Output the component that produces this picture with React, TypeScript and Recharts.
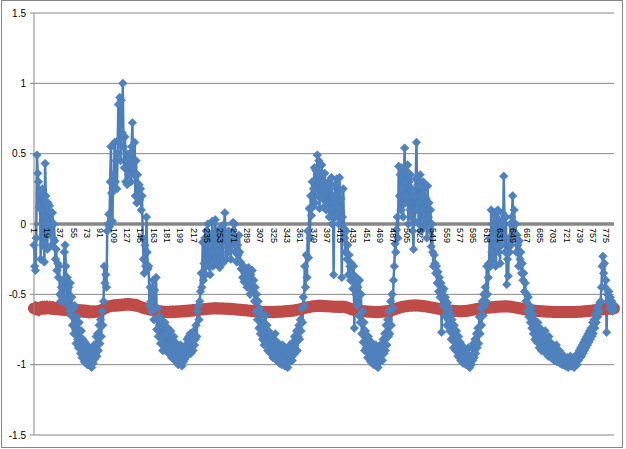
import { LineChart, Line, XAxis, YAxis, CartesianGrid, ReferenceLine } from "recharts";

// series 1: noisy seasonal signal (blue)
const signal = [
  -0.15, -0.3, -0.33, -0.1, 0.49, 0.36, 0.3, 0.12, 0.22, -0.25,
  0.1, 0.25, -0.15, 0.05, -0.27, 0.43, 0.2, 0.0, -0.18, 0.15,
  0.1, 0.13, -0.05, 0.02, -0.15, 0.08, -0.1, 0.0, -0.12, -0.25,
  -0.18, -0.33, -0.28, -0.38, -0.3, -0.5, -0.55, -0.45, -0.52, -0.4,
  -0.55, -0.2, -0.15, -0.3, -0.55, -0.38, -0.58, -0.45, -0.62, -0.42,
  -0.65, -0.52, -0.72, -0.6, -0.78, -0.58, -0.75, -0.85, -0.66, -0.82,
  -0.88, -0.7, -0.84, -0.92, -0.76, -0.95, -0.82, -0.9, -0.98, -0.84,
  -0.93, -0.86, -1.0, -0.9, -0.97, -0.88, -1.01, -0.92, -1.02, -0.9,
  -0.99, -0.86, -0.96, -0.92, -0.8, -0.94, -0.78, -0.9, -0.72, -0.85,
  -0.68, -0.8, -0.62, -0.72, -0.55, -0.3, -0.42, -0.36, -0.45, -0.05,
  0.0, 0.07, -0.02, 0.3, 0.55, 0.22, 0.02, 0.35, 0.25, 0.58,
  0.3, 0.45, 0.25, 0.5, 0.85, 0.6, 0.9, 0.45, 0.88, 0.65,
  1.0, 0.55, 0.4, 0.62, 0.3, 0.5, 0.28, 0.45, 0.35, 0.5,
  0.42, 0.3, 0.55, 0.72, 0.4, 0.35, 0.58, 0.2, 0.45, 0.15,
  0.35, 0.2, 0.28, 0.17, 0.25, 0.1, 0.2, -0.1, -0.25, -0.35,
  -0.15, -0.3, 0.05, -0.2, -0.32, -0.3, -0.58, -0.45, -0.55, -0.62,
  -0.5, -0.4, -0.68, -0.47, -0.6, -0.38, -0.75, -0.6, -0.8, -0.66,
  -0.72, -0.85, -0.68, -0.8, -0.9, -0.72, -0.86, -0.7, -0.9, -0.78,
  -0.88, -0.74, -0.92, -0.8, -0.88, -0.76, -0.95, -0.84, -0.9, -0.8,
  -0.95, -0.84, -0.98, -0.88, -0.93, -1.0, -0.9, -0.97, -0.86, -0.99,
  -1.01, -0.92, -0.98, -0.88, -0.96, -0.86, -0.94, -0.82, -0.93, -0.8,
  -0.9, -0.78, -0.92, -0.84, -0.8, -0.9, -0.76, -0.86, -0.82, -0.72,
  -0.8, -0.62, -0.58, -0.68, -0.55, -0.48, -0.35, -0.45, -0.13, -0.4,
  -0.28, -0.1, -0.36, -0.05, -0.25, 0.0, -0.3, -0.15, -0.36, -0.08,
  -0.2, 0.02, -0.3, -0.1, -0.25, 0.03, -0.15, -0.28, -0.05, -0.2,
  -0.1, -0.31, -0.03, -0.22, -0.12, -0.28, -0.05, 0.0, 0.08, -0.15,
  -0.25, -0.1, -0.2, -0.05, -0.18, -0.12, -0.25, -0.08, -0.15, 0.01,
  -0.1, 0.0, -0.2, -0.12, -0.27, -0.15, -0.22, -0.08, -0.2, -0.27,
  -0.32, -0.29, -0.38, -0.3, -0.41, -0.35, -0.4, -0.32, -0.45, -0.38,
  -0.31, -0.42, -0.5, -0.36, -0.45, -0.33, -0.48, -0.4, -0.55, -0.45,
  -0.62, -0.5, -0.68, -0.55, -0.74, -0.6, -0.78, -0.64, -0.72, -0.82,
  -0.7, -0.86, -0.75, -0.65, -0.84, -0.72, -0.9, -0.76, -0.86, -0.78,
  -0.92, -0.8, -0.88, -0.95, -0.82, -0.92, -0.78, -0.9, -0.97, -0.84,
  -0.93, -0.86, -0.99, -0.88, -0.95, -1.0, -0.86, -0.96, -0.9, -1.01,
  -0.88, -0.97, -0.92, -1.02, -0.9, -0.98, -0.86, -0.95, -0.88, -0.97,
  -0.84, -0.93, -0.8, -0.9, -0.84, -0.76, -0.9, -0.8, -0.72, -0.82,
  -0.68, -0.76, -0.6, -0.7, -0.52, -0.58, -0.3, -0.45, -0.22, -0.38,
  -0.05, -0.24, 0.11, -0.1, 0.2, 0.06, 0.3, 0.12, 0.25, 0.4,
  0.15, 0.38, 0.3, 0.49, 0.2, 0.45, 0.11, 0.35, 0.25, 0.42,
  0.18, 0.3, 0.12, 0.36, 0.22, 0.1, 0.28, 0.15, 0.3, 0.05,
  0.25, 0.1, 0.33, 0.0, 0.2, -0.36, 0.15, 0.28, 0.05, 0.32,
  0.12, 0.22, 0.0, 0.33, 0.1, 0.18, -0.38, 0.05, 0.25, -0.03,
  -0.1, -0.2, -0.05, -0.25, -0.15, -0.36, -0.22, -0.3, -0.4, -0.28,
  -0.35, -0.46, -0.3, -0.74, -0.42, -0.5, -0.38, -0.58, -0.45, -0.65,
  -0.4, -0.7, -0.5, -0.78, -0.62, -0.84, -0.7, -0.9, -0.76, -0.88,
  -0.82, -0.95, -0.8, -0.92, -0.86, -0.98, -0.84, -0.94, -0.88, -1.0,
  -0.9, -0.97, -0.86, -1.01, -0.92, -1.02, -0.9, -0.98, -0.86, -0.96,
  -0.88, -0.97, -0.82, -0.92, -0.78, -0.9, -0.72, -0.86, -0.68, -0.8,
  -0.62, -0.78, -0.55, -0.72, -0.5, -0.6, -0.4, -0.3, -0.14, -0.2,
  -0.04, 0.05, -0.1, 0.41, 0.2, 0.35, 0.1, 0.4, 0.25, 0.05,
  0.3, 0.54, 0.15, 0.38, 0.2, 0.42, 0.0, 0.3, 0.1, 0.35,
  0.05, 0.25, -0.05, -0.18, 0.2, 0.02, 0.32, 0.58, 0.1, 0.28,
  0.0, 0.15, 0.35, -0.05, 0.2, 0.1, 0.3, -0.02, 0.25, 0.05,
  0.18, -0.1, 0.27, 0.05, 0.15, -0.05, 0.1, -0.16, 0.0, -0.2,
  -0.3, -0.22, -0.28, -0.35, -0.3, -0.42, -0.34, -0.48, -0.38, -0.52,
  -0.42, -0.77, -0.48, -0.58, -0.46, -0.65, -0.52, -0.6, -0.72, -0.56,
  -0.68, -0.6, -0.76, -0.64, -0.82, -0.68, -0.78, -0.88, -0.72, -0.84,
  -0.9, -0.76, -0.86, -0.94, -0.8, -0.92, -0.84, -0.97, -0.86, -0.93,
  -0.99, -0.88, -0.95, -0.9, -1.0, -0.92, -0.98, -0.88, -1.01, -1.02,
  -0.94, -1.0, -0.88, -0.97, -0.85, -0.95, -0.82, -0.92, -0.78, -0.88,
  -0.74, -0.85, -0.66, -0.78, -0.6, -0.72, -0.55, -0.65, -0.5, -0.58,
  -0.45, -0.55, -0.3, -0.5, -0.38, -0.28, -0.1, -0.3, 0.1, -0.2,
  0.0, -0.25, 0.08, -0.15, -0.3, 0.05, -0.1, 0.1, -0.2, -0.05,
  -0.28, 0.02, -0.15, 0.08, -0.1, 0.34, 0.0, -0.2, 0.05, -0.43,
  -0.25, -0.37, -0.1, -0.2, 0.0, -0.15, 0.05, 0.2, -0.05, 0.1,
  -0.1, 0.0, -0.2, -0.08, -0.15, -0.3, -0.12, -0.25, -0.2, -0.35,
  -0.28, -0.4, -0.35, -0.48, -0.42, -0.55, -0.5, -0.62, -0.52, -0.66,
  -0.58, -0.7, -0.6, -0.74, -0.64, -0.78, -0.68, -0.82, -0.7, -0.76,
  -0.84, -0.7, -0.8, -0.88, -0.74, -0.84, -0.9, -0.78, -0.86, -0.8,
  -0.88, -0.76, -0.92, -0.82, -0.86, -0.94, -0.8, -0.9, -0.84, -0.95,
  -0.86, -0.92, -0.88, -0.97, -0.9, -0.95, -0.86, -0.98, -0.92, -0.96,
  -0.9, -0.99, -0.94, -0.97, -1.0, -0.93, -0.99, -0.95, -1.01, -0.96,
  -1.0, -0.95, -1.02, -0.97, -1.0, -0.94, -1.01, -0.97, -1.0, -0.95,
  -1.02, -0.96, -0.99, -0.94, -1.0, -0.92, -0.97, -0.9, -0.95, -0.88,
  -0.94, -0.86, -0.92, -0.84, -0.9, -0.82, -0.88, -0.8, -0.86, -0.78,
  -0.84, -0.76, -0.82, -0.74, -0.8, -0.7, -0.78, -0.68, -0.74, -0.64,
  -0.7, -0.6, -0.66, -0.58, -0.62, -0.56, -0.55, -0.45, -0.3, -0.23,
  -0.35, -0.28, -0.45, -0.4, -0.77, -0.5, -0.55, -0.48, -0.6, -0.52,
  -0.58, -0.55, -0.62, -0.57, -0.6,
];

// series 2: slow baseline (red)
const baseline = [
  -0.6, -0.602, -0.598, -0.601, -0.597, -0.599, -0.603, -0.598, -0.596, -0.6,
  -0.598, -0.595, -0.599, -0.597, -0.594, -0.598, -0.596, -0.593, -0.597, -0.595,
  -0.596, -0.598, -0.594, -0.597, -0.599, -0.596, -0.6, -0.598, -0.601, -0.599,
  -0.602, -0.6, -0.603, -0.601, -0.604, -0.602, -0.605, -0.603, -0.606, -0.604,
  -0.607, -0.605, -0.608, -0.606, -0.609, -0.607, -0.61, -0.608, -0.611, -0.609,
  -0.612, -0.61, -0.613, -0.611, -0.614, -0.612, -0.615, -0.613, -0.616, -0.614,
  -0.617, -0.615, -0.618, -0.616, -0.619, -0.617, -0.62, -0.618, -0.621, -0.619,
  -0.622, -0.62, -0.623, -0.621, -0.624, -0.622, -0.625, -0.623, -0.624, -0.622,
  -0.625, -0.623, -0.624, -0.622, -0.623, -0.621, -0.622, -0.62, -0.619, -0.617,
  -0.615, -0.612, -0.61, -0.607, -0.604, -0.601, -0.598, -0.596, -0.593, -0.591,
  -0.589, -0.587, -0.586, -0.584, -0.583, -0.582, -0.581, -0.58, -0.581, -0.579,
  -0.58, -0.578, -0.579, -0.577, -0.578, -0.576, -0.577, -0.575, -0.576, -0.574,
  -0.575, -0.573, -0.574, -0.572, -0.573, -0.571, -0.572, -0.57, -0.572, -0.571,
  -0.573, -0.572, -0.574, -0.573, -0.575, -0.574, -0.577, -0.576, -0.579, -0.578,
  -0.581, -0.583, -0.585, -0.587, -0.589, -0.591, -0.593, -0.595, -0.597, -0.598,
  -0.6, -0.601, -0.603, -0.604, -0.606, -0.607, -0.608, -0.609, -0.61, -0.611,
  -0.612, -0.613, -0.614, -0.615, -0.616, -0.617, -0.618, -0.619, -0.62, -0.62,
  -0.621, -0.621, -0.622, -0.622, -0.623, -0.623, -0.624, -0.624, -0.625, -0.625,
  -0.626, -0.625, -0.626, -0.625, -0.626, -0.624, -0.625, -0.624, -0.625, -0.623,
  -0.624, -0.623, -0.624, -0.622, -0.623, -0.622, -0.623, -0.621, -0.622, -0.621,
  -0.622, -0.62, -0.621, -0.619, -0.62, -0.618, -0.619, -0.617, -0.618, -0.616,
  -0.617, -0.615, -0.616, -0.614, -0.615, -0.613, -0.614, -0.612, -0.612, -0.611,
  -0.611, -0.61, -0.61, -0.609, -0.609, -0.608, -0.608, -0.607, -0.607, -0.606,
  -0.606, -0.605, -0.605, -0.604, -0.604, -0.603, -0.603, -0.602, -0.602, -0.601,
  -0.601, -0.6, -0.6, -0.599, -0.6, -0.599, -0.6, -0.599, -0.6, -0.599,
  -0.6, -0.6, -0.601, -0.6, -0.601, -0.601, -0.602, -0.601, -0.602, -0.602,
  -0.603, -0.602, -0.603, -0.603, -0.604, -0.603, -0.604, -0.604, -0.605, -0.605,
  -0.606, -0.606, -0.607, -0.607, -0.608, -0.608, -0.609, -0.609, -0.61, -0.61,
  -0.611, -0.611, -0.612, -0.612, -0.613, -0.613, -0.614, -0.614, -0.615, -0.615,
  -0.616, -0.616, -0.617, -0.617, -0.618, -0.618, -0.619, -0.619, -0.62, -0.62,
  -0.621, -0.621, -0.622, -0.622, -0.623, -0.623, -0.624, -0.624, -0.625, -0.625,
  -0.625, -0.626, -0.625, -0.626, -0.625, -0.626, -0.625, -0.626, -0.625, -0.625,
  -0.626, -0.625, -0.626, -0.625, -0.626, -0.625, -0.625, -0.624, -0.625, -0.624,
  -0.624, -0.623, -0.624, -0.623, -0.623, -0.622, -0.623, -0.622, -0.622, -0.621,
  -0.621, -0.62, -0.62, -0.619, -0.619, -0.618, -0.618, -0.617, -0.617, -0.616,
  -0.616, -0.615, -0.614, -0.613, -0.612, -0.611, -0.61, -0.609, -0.608, -0.607,
  -0.606, -0.604, -0.603, -0.601, -0.6, -0.598, -0.597, -0.595, -0.594, -0.593,
  -0.592, -0.591, -0.59, -0.589, -0.588, -0.587, -0.586, -0.585, -0.585, -0.584,
  -0.584, -0.583, -0.583, -0.582, -0.583, -0.582, -0.583, -0.582, -0.583, -0.582,
  -0.583, -0.583, -0.584, -0.583, -0.584, -0.584, -0.585, -0.584, -0.585, -0.585,
  -0.586, -0.586, -0.587, -0.587, -0.588, -0.588, -0.589, -0.588, -0.589, -0.589,
  -0.59, -0.589, -0.59, -0.589, -0.59, -0.589, -0.588, -0.589, -0.588, -0.588,
  -0.589, -0.59, -0.592, -0.594, -0.596, -0.598, -0.6, -0.602, -0.604, -0.606,
  -0.607, -0.609, -0.61, -0.611, -0.612, -0.613, -0.614, -0.615, -0.616, -0.617,
  -0.617, -0.618, -0.618, -0.619, -0.619, -0.62, -0.62, -0.621, -0.621, -0.622,
  -0.622, -0.622, -0.623, -0.623, -0.623, -0.624, -0.624, -0.624, -0.625, -0.625,
  -0.625, -0.625, -0.626, -0.625, -0.626, -0.625, -0.626, -0.625, -0.625, -0.624,
  -0.624, -0.623, -0.623, -0.622, -0.622, -0.621, -0.621, -0.62, -0.619, -0.618,
  -0.617, -0.616, -0.615, -0.614, -0.612, -0.611, -0.609, -0.608, -0.606, -0.604,
  -0.602, -0.6, -0.598, -0.597, -0.595, -0.593, -0.592, -0.59, -0.589, -0.588,
  -0.587, -0.586, -0.585, -0.584, -0.584, -0.583, -0.583, -0.582, -0.582, -0.581,
  -0.581, -0.58, -0.581, -0.58, -0.58, -0.579, -0.58, -0.579, -0.58, -0.58,
  -0.581, -0.581, -0.582, -0.582, -0.583, -0.583, -0.584, -0.584, -0.585, -0.585,
  -0.586, -0.587, -0.588, -0.589, -0.59, -0.591, -0.592, -0.593, -0.594, -0.595,
  -0.596, -0.597, -0.598, -0.599, -0.6, -0.601, -0.602, -0.603, -0.604, -0.605,
  -0.606, -0.607, -0.608, -0.609, -0.61, -0.611, -0.612, -0.612, -0.613, -0.614,
  -0.614, -0.615, -0.615, -0.616, -0.616, -0.617, -0.617, -0.618, -0.618, -0.618,
  -0.619, -0.619, -0.619, -0.62, -0.62, -0.62, -0.62, -0.621, -0.62, -0.62,
  -0.62, -0.619, -0.619, -0.618, -0.618, -0.617, -0.617, -0.616, -0.615, -0.614,
  -0.613, -0.612, -0.611, -0.61, -0.609, -0.608, -0.607, -0.606, -0.605, -0.604,
  -0.603, -0.602, -0.601, -0.6, -0.6, -0.599, -0.599, -0.598, -0.598, -0.597,
  -0.597, -0.596, -0.596, -0.595, -0.595, -0.594, -0.594, -0.593, -0.593, -0.592,
  -0.592, -0.591, -0.591, -0.59, -0.59, -0.589, -0.589, -0.588, -0.588, -0.588,
  -0.587, -0.587, -0.587, -0.586, -0.586, -0.586, -0.586, -0.585, -0.586, -0.585,
  -0.586, -0.586, -0.587, -0.587, -0.588, -0.588, -0.589, -0.59, -0.591, -0.592,
  -0.593, -0.594, -0.595, -0.596, -0.597, -0.598, -0.599, -0.6, -0.601, -0.602,
  -0.603, -0.604, -0.605, -0.606, -0.607, -0.608, -0.609, -0.61, -0.611, -0.612,
  -0.612, -0.613, -0.614, -0.614, -0.615, -0.616, -0.616, -0.617, -0.617, -0.618,
  -0.618, -0.619, -0.619, -0.62, -0.62, -0.62, -0.621, -0.621, -0.621, -0.622,
  -0.622, -0.622, -0.622, -0.623, -0.623, -0.623, -0.623, -0.624, -0.624, -0.624,
  -0.624, -0.624, -0.625, -0.625, -0.625, -0.625, -0.625, -0.625, -0.626, -0.626,
  -0.626, -0.626, -0.626, -0.626, -0.626, -0.626, -0.626, -0.626, -0.626, -0.626,
  -0.626, -0.626, -0.626, -0.626, -0.626, -0.626, -0.626, -0.626, -0.625, -0.625,
  -0.625, -0.625, -0.625, -0.625, -0.624, -0.624, -0.624, -0.624, -0.623, -0.623,
  -0.623, -0.622, -0.622, -0.622, -0.621, -0.621, -0.62, -0.62, -0.619, -0.619,
  -0.618, -0.618, -0.617, -0.617, -0.616, -0.616, -0.615, -0.614, -0.614, -0.613,
  -0.612, -0.612, -0.611, -0.61, -0.61, -0.609, -0.608, -0.608, -0.607, -0.606,
  -0.606, -0.605, -0.605, -0.604, -0.604, -0.603, -0.603, -0.602, -0.602, -0.602,
  -0.601, -0.601, -0.601, -0.6, -0.6,
];

const yTicks = [-1.5, -1, -0.5, 0, 0.5, 1, 1.5];
const Y_MIN = -1.5;
const Y_MAX = 1.5;

const data = signal.map((v, i) => ({ n: i + 1, signal: v, baseline: baseline[i] }));

const W = 626;
const H = 449;
const X_AXIS_H = 14;
const MARGIN = { top: 13, right: 12, bottom: 0, left: 0 };
const PLOT_H = H - MARGIN.top - MARGIN.bottom - X_AXIS_H;
// category labels sit on the 0 line, like Excel's crossing axis
const ZERO_Y = MARGIN.top + (PLOT_H * Y_MAX) / (Y_MAX - Y_MIN);

const FONT = "'Liberation Sans', Arial, sans-serif";
const GRID = "#868686";
const BLUE = "#4F81BD";
const RED = "#BE4B48";

function Diamond(props: any) {
  const { cx, cy, index } = props;
  if (cx == null || cy == null) return null;
  const s = 4.3;
  return (
    <path
      key={index}
      d={`M${cx},${cy - s}L${cx + s},${cy}L${cx},${cy + s}L${cx - s},${cy}Z`}
      fill={BLUE}
      stroke={BLUE}
      strokeWidth={0.6}
    />
  );
}

function CategoryTick(props: any) {
  const { x, payload } = props;
  const y = ZERO_Y + 4;
  return (
    <text
      x={x}
      y={y}
      dy="0.35em"
      transform={`rotate(90, ${x}, ${y})`}
      textAnchor="start"
      fontSize={9}
      fontFamily={FONT}
      fill="#000"
    >
      {payload.value}
    </text>
  );
}

export default function App() {
  return (
    <div style={{ position: "absolute", left: 0, top: 0, width: W, height: H, background: "#fff" }}>
      <div
        style={{
          position: "absolute",
          left: 1,
          top: 0,
          width: 620,
          height: 446,
          border: `1px solid ${GRID}`,
        }}
      />
      <div style={{ position: "absolute", left: 0, top: 0 }}>
        <LineChart width={W} height={H} data={data} margin={MARGIN}>
          <CartesianGrid vertical={false} stroke={GRID} strokeDasharray="" />
          <YAxis
            domain={[Y_MIN, Y_MAX]}
            ticks={yTicks}
            width={34}
            tickSize={4}
            tickMargin={4}
            axisLine={{ stroke: GRID }}
            tickLine={{ stroke: GRID }}
            tick={{ fill: "#000", fontSize: 10, fontFamily: FONT }}
          />
          <ReferenceLine y={0} stroke="#878787" strokeWidth={3.5} />
          <Line
            dataKey="signal"
            stroke="#4A7EBB"
            strokeWidth={2.5}
            dot={Diamond}
            activeDot={false}
            isAnimationActive={false}
          />
          <Line
            dataKey="baseline"
            stroke={RED}
            strokeWidth={12}
            strokeLinecap="round"
            dot={false}
            activeDot={false}
            isAnimationActive={false}
          />
          <XAxis
            dataKey="n"
            interval={17}
            height={X_AXIS_H}
            axisLine={false}
            tickLine={false}
            tick={(p: any) => <CategoryTick {...p} />}
          />
        </LineChart>
      </div>
    </div>
  );
}
